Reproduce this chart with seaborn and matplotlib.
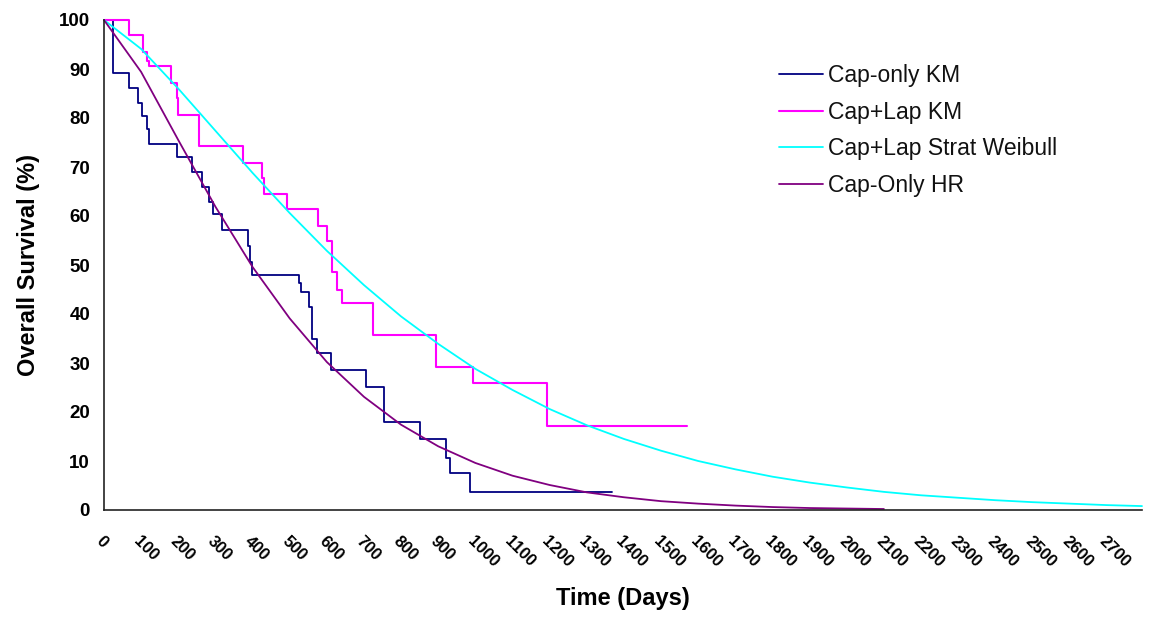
import matplotlib
matplotlib.use("Agg")
import matplotlib.pyplot as plt
import pandas as pd
import seaborn as sns

# ---- data ----
cap_only_km_time = [0, 24, 67, 92, 101, 115, 122, 197, 236, 265, 283, 294, 317, 388, 394, 398,
                    526, 531, 552, 561, 573, 610, 705, 755, 851, 920, 931, 986, 1369]
cap_only_km_surv = [100, 89.1, 86.1, 83.0, 80.4, 77.7, 74.6, 72.1, 68.9, 66.0, 62.9, 60.4, 57.1, 53.9, 50.7, 48.0,
                    46.3, 44.4, 41.4, 34.8, 32.0, 28.6, 25.2, 17.9, 14.5, 10.7, 7.5, 3.6, 3.6]

cap_lap_km_time = [0, 68, 106, 115, 122, 180, 197, 200, 257, 373, 425, 431, 492, 575, 600, 615,
                   628, 641, 725, 894, 994, 1193, 1569]
cap_lap_km_surv = [100, 96.9, 93.5, 91.6, 90.6, 87.2, 84.0, 80.6, 74.3, 70.8, 67.7, 64.4, 61.4, 58.0, 54.9, 48.6,
                   44.9, 42.2, 35.8, 29.2, 26.0, 17.1, 17.1]

weibull_time = [0, 100, 200, 300, 400, 500, 600, 700, 800, 900, 1000, 1100, 1200, 1300, 1400,
                1500, 1600, 1700, 1800, 1900, 2000, 2100, 2200, 2300, 2400, 2500, 2600, 2700, 2795]
weibull_surv = [100, 94.1, 86.0, 77.4, 68.8, 60.6, 52.9, 45.9, 39.5, 33.9, 28.8, 24.5, 20.6, 17.3, 14.5,
                12.1, 10.0, 8.3, 6.8, 5.6, 4.6, 3.7, 3.0, 2.5, 2.0, 1.6, 1.3, 1.0, 0.8]

hr_time = [0, 100, 200, 300, 400, 500, 600, 700, 800, 900, 1000, 1100, 1200, 1300, 1400,
           1500, 1600, 1700, 1800, 1900, 2000, 2100]
hr_surv = [100, 89.4, 75.5, 61.9, 49.6, 39.1, 30.2, 23.1, 17.4, 13.0, 9.6, 7.0, 5.1, 3.6, 2.6,
           1.8, 1.3, 0.9, 0.6, 0.4, 0.3, 0.2]

x_ticks = list(range(0, 2800, 100))
y_ticks = list(range(0, 110, 10))

series_names = ["Cap-only KM", "Cap+Lap KM", "Cap+Lap Strat Weibull", "Cap-Only HR"]
series_colors = ["#000080", "#FF00FF", "#00FFFF", "#800080"]

# ---- plotting ----
sns.set_theme(style="white")
plt.rcParams["font.family"] = ["Liberation Sans", "DejaVu Sans"]
plt.rcParams["text.color"] = "black"
plt.rcParams["axes.labelcolor"] = "black"
plt.rcParams["xtick.color"] = "black"
plt.rcParams["ytick.color"] = "black"

fig = plt.figure(figsize=(11.57, 6.17), dpi=100)
ax = fig.add_axes([104 / 1157, 1 - 510 / 617, (1142 - 104) / 1157, (510 - 20) / 617])

df_a = pd.DataFrame({"t": cap_only_km_time, "s": cap_only_km_surv})
df_b = pd.DataFrame({"t": cap_lap_km_time, "s": cap_lap_km_surv})
df_c = pd.DataFrame({"t": weibull_time, "s": weibull_surv})
df_d = pd.DataFrame({"t": hr_time, "s": hr_surv})

sns.lineplot(data=df_a, x="t", y="s", ax=ax, color=series_colors[0], lw=1.3,
             drawstyle="steps-post", estimator=None, label=series_names[0], clip_on=False)
sns.lineplot(data=df_b, x="t", y="s", ax=ax, color=series_colors[1], lw=1.5,
             drawstyle="steps-post", estimator=None, label=series_names[1], clip_on=False)
sns.lineplot(data=df_c, x="t", y="s", ax=ax, color=series_colors[2], lw=1.3,
             estimator=None, label=series_names[2], clip_on=False)
sns.lineplot(data=df_d, x="t", y="s", ax=ax, color=series_colors[3], lw=1.3,
             estimator=None, label=series_names[3], clip_on=False)

ax.set_xlim(0, 2795)
ax.set_ylim(0, 100)
ax.set_xticks(x_ticks)
ax.set_xticklabels([str(v) for v in x_ticks], rotation=-45, ha="left", va="top",
                   rotation_mode="anchor", fontsize=12, fontweight="bold", color="black")
ax.set_yticks(y_ticks)
ax.set_yticklabels([str(v) for v in y_ticks], fontsize=13.5, fontweight="bold", color="black")

for side in ["top", "right"]:
    ax.spines[side].set_visible(False)
for side in ["left", "bottom"]:
    ax.spines[side].set_color("#222222")
    ax.spines[side].set_linewidth(1.2)

ax.tick_params(axis="y", direction="out", length=5, width=1.2, color="#222222", pad=5)
ax.tick_params(axis="x", direction="out", length=4, width=1.2, color="#222222", pad=13)
ax.grid(False)

ax.set_xlabel("Time (Days)", fontsize=17, fontweight="bold", labelpad=12, color="black")
ax.set_ylabel("Overall Survival (%)", fontsize=17, fontweight="bold", labelpad=14, color="black")

leg = ax.legend(loc="upper left", bbox_to_anchor=(779 / 1157, 1 - 64 / 617),
                bbox_transform=fig.transFigure, frameon=False, fontsize=16.5,
                handlelength=1.9, handletextpad=0.25, labelspacing=0.6, borderpad=0,
                borderaxespad=0)
for txt in leg.get_texts():
    txt.set_color("#111111")

fig.savefig("out.png", dpi=100)
